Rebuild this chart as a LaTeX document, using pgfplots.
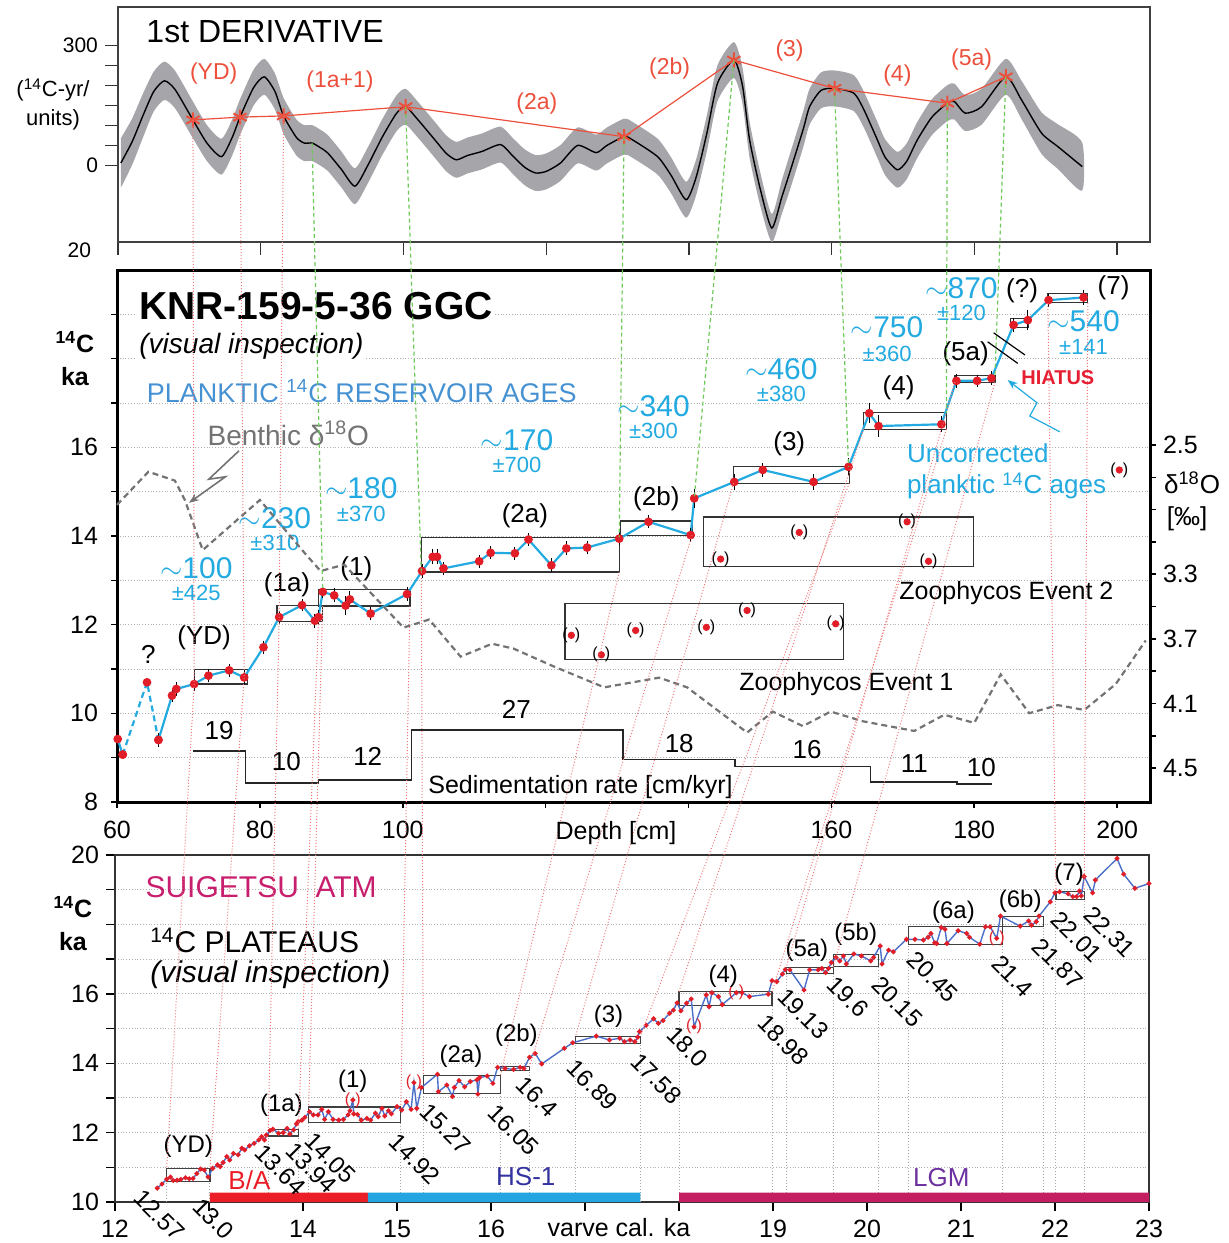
\documentclass[border=0pt]{standalone}
\usepackage{fontspec}
\setmainfont{Liberation Sans}
\usepackage{pgfplots}
\pgfplotsset{compat=1.18}
\usetikzlibrary{arrows.meta}
\newcommand{\fs}[1]{\fontsize{#1}{#1}\selectfont}
\definecolor{dred}{RGB}{236,80,60}
\definecolor{band}{RGB}{165,165,170}
\definecolor{cyanb}{RGB}{35,170,225}
\definecolor{plank}{RGB}{70,145,210}
\definecolor{pred}{RGB}{225,30,40}
\definecolor{hiat}{RGB}{230,30,50}
\definecolor{suiline}{RGB}{75,110,200}
\definecolor{suimag}{RGB}{200,30,110}
\definecolor{barred}{RGB}{235,30,40}
\definecolor{barcyan}{RGB}{35,165,225}
\definecolor{barmag}{RGB}{195,30,95}
\definecolor{hstext}{RGB}{50,50,160}
\definecolor{lgmtext}{RGB}{110,50,160}
\definecolor{gline}{RGB}{110,200,90}
\definecolor{rline}{RGB}{240,120,120}
\pgfplotsset{every axis/.append style={/pgf/number format/assume math mode=true}}
\begin{document}
\begin{tikzpicture}[font=\fs{12.5}]
\useasboundingbox (0,0) rectangle (614.5pt,-621.5pt);

% ================= TOP PANEL =================
\begin{axis}[
 at={(59pt,-121pt)}, anchor=south west, scale only axis,
 width=516pt, height=117.5pt,
 xmin=60, xmax=204.6, ymin=-192, ymax=397,
 xtick={60,80,...,200}, xticklabels={},
 ytick={0,50,100,150,200,250,300}, yticklabels={0,,,,,,300},
 tick align=outside, major tick length=6.5pt, tick pos=left,
 axis line style={line width=0.8pt, black!75},
 every tick/.style={black!80, line width=0.7pt},
 tick label style={font=\fs{10.5}},
 clip=false]
\addplot[fill=band, draw=none, smooth, tension=0.4] coordinates {
(60.4,68)(62.0,118)(63.5,180)(65.0,235)(66.5,260)(68.0,237)(70.5,160)(72.5,100)(74.5,67)(76.0,115)(77.1,166)(79.0,240)(80.5,267)(82.0,230)(83.2,169)(85.0,115)(86.1,101)(87.2,101)(88.3,90)(89.4,76)(91.3,35)(93.2,-7)(95.0,45)(97.0,115)(99.0,175)(100.3,192)(102.0,160)(104.4,109)(106.0,75)(107.4,59)(109.0,70)(111.0,80)(113.6,97)(115.4,67)(117.0,40)(118.5,26)(120.0,30)(122.0,51)(124.4,95)(127.0,77)(128.5,95)(130.9,117)(132.0,110)(135.6,67)(137.5,20)(139.6,-41)(141.0,15)(142.5,125)(144.0,251)(146.3,309)(147.5,245)(148.5,109)(150.0,-18)(151.6,-122)(153.0,-38)(154.1,26)(156.0,135)(156.9,192)(158.5,233)(160.4,238)(163.1,226)(164.5,185)(166.4,109)(167.5,65)(169.2,34)(170.5,55)(172.0,109)(174.0,165)(176.2,201)(177.2,205)(178.7,176)(181.0,192)(184.4,267)(186.6,212)(189.4,133)(191.7,103)(195.1,57)
(195.1,-63)(191.7,-9)(189.4,29)(186.6,116)(184.4,177)(181.0,102)(178.7,86)(177.2,115)(176.2,111)(174.0,75)(172.0,19)(170.5,-35)(169.2,-56)(167.5,-25)(166.4,19)(164.5,95)(163.1,136)(160.4,148)(158.5,143)(156.9,102)(156.0,45)(154.1,-64)(153.0,-122)(151.6,-192)(150.0,-102)(148.5,19)(147.5,155)(146.3,219)(144.0,161)(142.5,35)(141.0,-75)(139.6,-131)(137.5,-70)(135.6,-23)(132.0,20)(130.9,27)(128.5,5)(127.0,-13)(124.4,5)(122.0,-39)(120.0,-60)(118.5,-64)(117.0,-50)(115.4,-23)(113.6,7)(111.0,-10)(109.0,-20)(107.4,-31)(106.0,-15)(104.4,19)(102.0,70)(100.3,102)(99.0,85)(97.0,25)(95.0,-45)(93.2,-97)(91.3,-55)(89.4,-14)(88.3,0)(87.2,11)(86.1,11)(85.0,25)(83.2,79)(82.0,140)(80.5,177)(79.0,150)(77.1,76)(76.0,25)(74.5,-23)(72.5,10)(70.5,68)(68.0,143)(66.5,164)(65.0,135)(63.5,70)(62.0,2)(60.4,-56)};
\addplot[black, line width=0.7pt, smooth, tension=0.4] coordinates {
(60.4,6)(62.0,60)(63.5,125)(65.0,185)(66.5,212)(68.0,190)(70.5,114)(72.5,55)(74.5,22)(76.0,70)(77.1,121)(79.0,195)(80.5,222)(82.0,185)(83.2,124)(85.0,70)(86.1,56)(87.2,56)(88.3,45)(89.4,31)(91.3,-10)(93.2,-52)(95.0,0)(97.0,70)(99.0,130)(100.3,147)(102.0,115)(104.4,64)(106.0,30)(107.4,14)(109.0,25)(111.0,35)(113.6,52)(115.4,22)(117.0,-5)(118.5,-19)(120.0,-15)(122.0,6)(124.4,50)(127.0,32)(128.5,50)(130.9,72)(132.0,65)(135.6,22)(137.5,-25)(139.6,-86)(141.0,-30)(142.5,80)(144.0,206)(146.3,264)(147.5,200)(148.5,64)(150.0,-60)(151.6,-157)(153.0,-80)(154.1,-19)(156.0,90)(156.9,147)(158.5,188)(160.4,193)(163.1,181)(164.5,140)(166.4,64)(167.5,20)(169.2,-11)(170.5,10)(172.0,64)(174.0,120)(176.2,156)(177.2,160)(178.7,131)(181.0,147)(184.4,222)(186.6,164)(189.4,81)(191.7,47)(195.1,-3)};
\addplot[dred, line width=0.6pt, mark=asterisk, mark size=3.8pt, mark options={line width=1pt}] coordinates {
(70.5,114)(77.1,121)(83.2,124)(100.3,147)(130.9,72)(146.3,264)(160.4,193)(176.2,156)(184.4,222)};
\node[anchor=west, font=\fs{16}] at (axis cs:63.0,335) {1st DERIVATIVE};
\node[dred, font=\fs{11.5}] at (axis cs:73.4,231) {(YD)};
\node[dred, font=\fs{11.5}] at (axis cs:91.1,210) {(1a+1)};
\node[dred, font=\fs{11.5}] at (axis cs:118.7,156) {(2a)};
\node[dred, font=\fs{11.5}] at (axis cs:137.3,243) {(2b)};
\node[dred, font=\fs{11.5}] at (axis cs:154.1,289) {(3)};
\node[dred, font=\fs{11.5}] at (axis cs:169.2,224) {(4)};
\node[dred, font=\fs{11.5}] at (axis cs:179.6,266) {(5a)};
\coordinate (T1) at (axis cs:70.5,114);
\coordinate (T2) at (axis cs:77.1,121);
\coordinate (T3) at (axis cs:83.2,124);
\coordinate (TG1) at (axis cs:87.2,56);
\coordinate (TG2) at (axis cs:100.3,147);
\coordinate (TG3) at (axis cs:130.9,72);
\coordinate (TG4) at (axis cs:146.3,264);
\coordinate (TG5) at (axis cs:160.4,193);
\coordinate (TG6) at (axis cs:176.2,156);
\coordinate (TG7) at (axis cs:184.4,222);
\end{axis}

% ================= MIDDLE PANEL =================
\begin{axis}[
 at={(58.5pt,-401pt)}, anchor=south west, scale only axis,
 width=516.5pt, height=266pt,
 xmin=60, xmax=204.6, ymin=8, ymax=20,
 xtick={60,80,...,200}, xticklabels={60,80,100,,,160,180,200},
 ytick={8,9,10,11,12,13,14,15,16,17,18,19}, yticklabels={8,,10,,12,,14,,16,,,},
 ymajorgrids, grid style={densely dotted, black!30, line width=0.5pt},
 tick align=outside, major tick length=3pt, tick pos=left,
 axis line style={line width=1.5pt},
 every tick/.style={black, line width=0.8pt},
 tick label style={font=\fs{12.5}},
 xticklabel style={yshift=-3pt}, yticklabel style={xshift=-3pt},
 clip=false]
% plateau boxes
\draw[black!80, line width=0.6pt] (axis cs:70.8,10.66) rectangle (axis cs:78.3,10.98);
\draw[black!80, line width=0.6pt] (axis cs:82.4,12.08) rectangle (axis cs:88.8,12.43);
\draw[black!80, line width=0.6pt] (axis cs:88.2,12.42) rectangle (axis cs:101.0,12.79);
\draw[black!80, line width=0.6pt] (axis cs:102.6,13.19) rectangle (axis cs:130.3,13.97);
\draw[black!80, line width=0.6pt] (axis cs:130.5,14.02) rectangle (axis cs:140.5,14.34);
\draw[black!80, line width=0.6pt] (axis cs:146.3,15.19) rectangle (axis cs:162.5,15.56);
\draw[black!80, line width=0.6pt] (axis cs:164.5,16.41) rectangle (axis cs:176.1,16.78);
\draw[black!80, line width=0.6pt] (axis cs:177.3,17.47) rectangle (axis cs:182.9,17.62);
\draw[black!80, line width=0.6pt] (axis cs:185.1,18.70) rectangle (axis cs:187.6,18.90);
\draw[black!80, line width=0.6pt] (axis cs:190.3,19.26) rectangle (axis cs:195.9,19.47);
% zoophycos boxes
\draw[black!80, line width=0.6pt] (axis cs:142.1,13.32) rectangle (axis cs:179.9,14.43);
\draw[black!80, line width=0.6pt] (axis cs:122.7,11.21) rectangle (axis cs:161.7,12.47);
% sedimentation rate
\addplot[black!85, line width=0.8pt] coordinates {
(70.6,9.15)(78.0,9.15)(78.0,8.43)(88.2,8.43)(88.2,8.49)(101.2,8.49)(101.2,9.62)(130.8,9.62)(130.8,8.955)(146.5,8.955)(146.5,8.80)(165.5,8.80)(165.5,8.45)(177.6,8.45)(177.6,8.41)(182.5,8.41)};
% planktic ages
\addplot[cyanb, line width=1.1pt, mark=*, mark size=1.6pt, mark options={pred}] coordinates {(60.1,9.42)(60.8,9.07)};
\addplot[cyanb, line width=1.1pt, dash pattern=on 3pt off 2pt, mark=*, mark size=1.6pt, mark options={pred, solid}] coordinates {(60.8,9.07)(64.2,10.70)(65.8,9.40)};
\addplot[cyanb, line width=1.1pt, mark=*, mark size=1.6pt, mark options={pred},
  error bars/.cd, y dir=both, y explicit,
  error bar style={black, line width=0.5pt},
  error mark options={black, mark size=2.2pt, line width=0.5pt}]
 table[x index=0, y index=1, y error index=2] {
65.8 9.40 0.05
67.7 10.40 0.05
68.3 10.55 0.05
70.8 10.66 0.05
72.8 10.85 0.05
75.7 10.97 0.04
77.8 10.81 0.07
80.5 11.49 0.05
82.7 12.17 0.05
85.9 12.44 0.04
87.7 12.09 0.06
88.2 12.17 0.07
88.8 12.74 0.05
90.4 12.66 0.06
92.0 12.43 0.12
92.6 12.57 0.08
95.5 12.25 0.05
100.6 12.69 0.05
102.7 13.21 0.05
104.2 13.53 0.07
104.8 13.53 0.07
105.7 13.27 0.05
110.7 13.43 0.05
112.3 13.62 0.05
115.7 13.61 0.05
117.6 13.92 0.05
120.8 13.34 0.06
122.9 13.72 0.06
125.8 13.74 0.05
130.3 13.94 0.05
134.4 14.32 0.05
140.3 14.02 0.06
140.8 14.85 0.12
146.4 15.22 0.08
150.4 15.49 0.06
157.5 15.22 0.08
162.4 15.56 0.10
165.3 16.77 0.12
166.6 16.48 0.15
175.4 16.52 0.08
177.5 17.50 0.06
180.4 17.50 0.04
182.4 17.56 0.06
185.5 18.76 0.05
187.5 18.87 0.12
190.4 19.32 0.05
195.3 19.38 0.07
};
% zoophycos (rejected) points
\addplot[only marks, mark=*, mark size=1.6pt, pred] coordinates {
(155.5,14.08)(170.6,14.32)(144.5,13.48)(173.6,13.43)(123.6,11.76)(127.8,11.32)(132.6,11.87)(142.5,11.94)(148.2,12.32)(160.6,12.02)(200.3,15.49)};
\node[font=\fs{8}] at (axis cs:155.5,14.08) {(\hspace{3.6pt})};
\node[font=\fs{8}] at (axis cs:170.6,14.32) {(\hspace{3.6pt})};
\node[font=\fs{8}] at (axis cs:144.5,13.48) {(\hspace{3.6pt})};
\node[font=\fs{8}] at (axis cs:173.6,13.43) {(\hspace{3.6pt})};
\node[font=\fs{8}] at (axis cs:123.6,11.76) {(\hspace{3.6pt})};
\node[font=\fs{8}] at (axis cs:127.8,11.32) {(\hspace{3.6pt})};
\node[font=\fs{8}] at (axis cs:132.6,11.87) {(\hspace{3.6pt})};
\node[font=\fs{8}] at (axis cs:142.5,11.94) {(\hspace{3.6pt})};
\node[font=\fs{8}] at (axis cs:148.2,12.32) {(\hspace{3.6pt})};
\node[font=\fs{8}] at (axis cs:160.6,12.02) {(\hspace{3.6pt})};
\node[font=\fs{8}] at (axis cs:200.3,15.49) {(\hspace{3.6pt})};
% texts
\node[anchor=west, fill=white, inner sep=1pt, font=\bfseries\fs{19.5}] at (axis cs:62.8,19.18) {KNR-159-5-36 GGC};
\node[anchor=west, fill=white, inner sep=1pt, font=\itshape\fs{14}] at (axis cs:62.8,18.28) {(visual inspection)};
\node[anchor=west, plank, font=\fs{13.5}] at (axis cs:63.2,17.27) {PLANKTIC \textsuperscript{14}C RESERVOIR AGES};
\node[anchor=west, black!55, font=\fs{14}] at (axis cs:71.7,16.32) {Benthic δ\textsuperscript{18}O};
\node[cyanb, font=\fs{15}] at (axis cs:71.1,13.28) {$\sim$100};
\node[cyanb, font=\fs{11}] at (axis cs:71.1,12.72) {±425};
\node[cyanb, font=\fs{15}] at (axis cs:82.1,14.41) {$\sim$230};
\node[cyanb, font=\fs{11}] at (axis cs:82.1,13.85) {±310};
\node[cyanb, font=\fs{15}] at (axis cs:94.2,15.09) {$\sim$180};
\node[cyanb, font=\fs{11}] at (axis cs:94.2,14.49) {±370};
\node[cyanb, font=\fs{15}] at (axis cs:116.0,16.17) {$\sim$170};
\node[cyanb, font=\fs{11}] at (axis cs:116.0,15.61) {±700};
\node[cyanb, font=\fs{15}] at (axis cs:135.1,16.93) {$\sim$340};
\node[cyanb, font=\fs{11}] at (axis cs:135.1,16.37) {±300};
\node[cyanb, font=\fs{15}] at (axis cs:153.0,17.76) {$\sim$460};
\node[cyanb, font=\fs{11}] at (axis cs:153.0,17.20) {±380};
\node[cyanb, font=\fs{15}] at (axis cs:167.8,18.70) {$\sim$750};
\node[cyanb, font=\fs{11}] at (axis cs:167.8,18.11) {±360};
\node[cyanb, font=\fs{15}] at (axis cs:178.2,19.60) {$\sim$870};
\node[cyanb, font=\fs{11}] at (axis cs:178.2,19.04) {±120};
\node[cyanb, font=\fs{15}] at (axis cs:195.3,18.85) {$\sim$540};
\node[cyanb, font=\fs{11}] at (axis cs:195.3,18.27) {±141};
\node[font=\fs{13}] at (axis cs:72.2,11.70) {(YD)};
\node[font=\fs{13}] at (axis cs:64.4,11.32) {?};
\node[font=\fs{13}] at (axis cs:83.8,12.91) {(1a)};
\node[font=\fs{13}] at (axis cs:93.5,13.25) {(1)};
\node[font=\fs{13}] at (axis cs:117.1,14.45) {(2a)};
\node[font=\fs{13}] at (axis cs:135.5,14.83) {(2b)};
\node[font=\fs{13}] at (axis cs:154.1,16.07) {(3)};
\node[font=\fs{13}] at (axis cs:169.4,17.35) {(4)};
\node[font=\fs{13}] at (axis cs:178.8,18.10) {(5a)};
\node[font=\fs{13}] at (axis cs:186.7,19.53) {(?)};
\node[font=\fs{13}] at (axis cs:199.5,19.60) {(7)};
\node[hiat, font=\bfseries\fs{10}] at (axis cs:191.7,17.57) {HIATUS};
\node[anchor=west, cyanb, font=\fs{13}] at (axis cs:169.6,15.86) {Uncorrected};
\node[anchor=west, cyanb, font=\fs{13}] at (axis cs:169.6,15.13) {planktic \textsuperscript{14}C ages};
\node[font=\fs{12.5}] at (axis cs:184.5,12.71) {Zoophycos Event 2};
\node[font=\fs{12.5}] at (axis cs:162.1,10.65) {Zoophycos Event 1};
\node[font=\fs{13}] at (axis cs:74.3,9.61) {19};
\node[font=\fs{13}] at (axis cs:83.7,8.91) {10};
\node[font=\fs{13}] at (axis cs:95.1,9.03) {12};
\node[font=\fs{13}] at (axis cs:115.9,10.08) {27};
\node[font=\fs{13}] at (axis cs:138.7,9.32) {18};
\node[font=\fs{13}] at (axis cs:156.6,9.18) {16};
\node[font=\fs{13}] at (axis cs:171.6,8.86) {11};
\node[font=\fs{13}] at (axis cs:181.0,8.77) {10};
\node[anchor=west, font=\fs{12.5}] at (axis cs:102.6,8.34) {Sedimentation rate [cm/kyr]};
% link coordinates
\coordinate (M1) at (axis cs:70.8,10.66);
\coordinate (M2) at (axis cs:77.8,10.81);
\coordinate (M3) at (axis cs:82.7,12.17);
\coordinate (M4) at (axis cs:88.2,12.08);
\coordinate (M5) at (axis cs:88.8,12.42);
\coordinate (M6) at (axis cs:101.0,12.42);
\coordinate (M7) at (axis cs:102.6,13.19);
\coordinate (M8) at (axis cs:130.3,13.19);
\coordinate (M9) at (axis cs:140.5,14.02);
\coordinate (M10) at (axis cs:146.3,15.19);
\coordinate (M11) at (axis cs:162.5,15.19);
\coordinate (M12) at (axis cs:164.5,16.41);
\coordinate (M13) at (axis cs:176.1,16.41);
\coordinate (M14) at (axis cs:177.3,17.47);
\coordinate (M15) at (axis cs:182.9,17.47);
\coordinate (M16) at (axis cs:190.3,19.26);
\coordinate (M17) at (axis cs:195.9,19.26);
\coordinate (MG1) at (axis cs:88.8,12.79);
\coordinate (MG2) at (axis cs:102.6,13.20);
\coordinate (MG3) at (axis cs:130.3,13.97);
\coordinate (MG4) at (axis cs:140.8,14.85);
\coordinate (MG5) at (axis cs:162.4,15.56);
\coordinate (MG6) at (axis cs:176.1,16.78);
\coordinate (MG7) at (axis cs:182.9,17.62);
\end{axis}

% ================= MIDDLE right axis (d18O) =================
\begin{axis}[
 at={(58.5pt,-401pt)}, anchor=south west, scale only axis,
 width=516.5pt, height=266pt,
 xmin=60, xmax=204.6, ymin=1.416, ymax=4.71, y dir=reverse,
 hide x axis, axis y line*=right,
 ytick={2.5,2.7,2.9,3.1,3.3,3.5,3.7,3.9,4.1,4.3,4.5},
 yticklabels={2.5,,,,3.3,,3.7,,4.1,,4.5},
 tick align=outside, major tick length=3pt,
 axis line style={line width=1.5pt},
 every tick/.style={black, line width=0.8pt},
 tick label style={font=\fs{12.5}},
 clip=false]
\addplot[black!55, line width=1.1pt, dash pattern=on 3pt off 2pt] coordinates {
(60.0,2.87)(64.4,2.665)(68.1,2.72)(69.5,2.84)(72.0,3.15)(80.0,2.84)(86.3,3.17)(88.5,3.28)(91.8,3.24)(100.1,3.63)(103.7,3.58)(108.1,3.81)(112.5,3.73)(115.5,3.76)(121.1,3.87)(128.2,4.00)(135.9,3.94)(139.8,4.00)(148.2,4.28)(151.8,4.15)(156.0,4.24)(159.9,4.15)(164.4,4.21)(171.6,4.27)(175.8,4.17)(180.0,4.22)(183.7,3.92)(187.7,4.16)(191.7,4.11)(195.4,4.14)(199.8,3.98)(204.0,3.71)};
\end{axis}

% ================= BOTTOM PANEL =================
\begin{axis}[
 at={(57.5pt,-601pt)}, anchor=south west, scale only axis,
 width=517pt, height=173.5pt,
 xmin=12, xmax=23, ymin=10, ymax=20,
 xtick={12,13,14,15,16,17,18,19,20,21,22,23}, xticklabels={12,,14,15,16,,,19,20,21,22,23},
 ytick={10,11,12,13,14,15,16,17,18,19,20}, yticklabels={10,,12,,14,,16,,,,20},
 ymajorgrids, grid style={densely dotted, black!30, line width=0.5pt},
 tick align=outside, major tick length=4.5pt, tick pos=left,
 axis line style={line width=0.8pt, black!80},
 every tick/.style={black, line width=0.7pt},
 tick label style={font=\fs{12.5}},
 xticklabel style={yshift=-1pt},
 clip=false]
% vertical dotted lines
\draw[black!35, densely dotted, line width=0.5pt] (axis cs:12.55,10)--(axis cs:12.55,10.59)
 (axis cs:13.01,10)--(axis cs:13.01,10.59) (axis cs:13.63,10)--(axis cs:13.63,11.90)
 (axis cs:13.95,10)--(axis cs:13.95,11.90) (axis cs:14.06,10)--(axis cs:14.06,12.29)
 (axis cs:15.04,10)--(axis cs:15.04,12.29) (axis cs:15.28,10)--(axis cs:15.28,13.13)
 (axis cs:16.10,10)--(axis cs:16.10,13.13) (axis cs:16.41,10)--(axis cs:16.41,13.78)
 (axis cs:16.90,10)--(axis cs:16.90,14.57) (axis cs:17.59,10)--(axis cs:17.59,14.57)
 (axis cs:18.00,10)--(axis cs:18.00,15.67) (axis cs:18.99,10)--(axis cs:18.99,15.67)
 (axis cs:19.14,10)--(axis cs:19.14,16.58) (axis cs:19.64,10)--(axis cs:19.64,16.58)
 (axis cs:20.12,10)--(axis cs:20.12,16.79) (axis cs:20.44,10)--(axis cs:20.44,17.42)
 (axis cs:21.44,10)--(axis cs:21.44,17.42) (axis cs:21.88,10)--(axis cs:21.88,17.93)
 (axis cs:22.01,10)--(axis cs:22.01,18.71) (axis cs:22.31,10)--(axis cs:22.31,18.71);
% bars
\addplot[fill=barred, draw=none] coordinates {(13.01,10)(14.69,10)(14.69,10.27)(13.01,10.27)} \closedcycle;
\addplot[fill=barcyan, draw=none] coordinates {(14.69,10)(17.59,10)(17.59,10.27)(14.69,10.27)} \closedcycle;
\addplot[fill=barmag, draw=none] coordinates {(18.0,10)(23.0,10)(23.0,10.27)(18.0,10.27)} \closedcycle;
% plateau boxes
\draw[black!75, line width=0.6pt] (axis cs:12.55,10.59) rectangle (axis cs:13.01,10.97);
\draw[black!75, line width=0.6pt] (axis cs:13.63,11.90) rectangle (axis cs:13.95,12.09);
\draw[black!75, line width=0.6pt] (axis cs:14.06,12.29) rectangle (axis cs:15.04,12.74);
\draw[black!75, line width=0.6pt] (axis cs:15.28,13.13) rectangle (axis cs:16.10,13.64);
\draw[black!75, line width=0.6pt] (axis cs:16.10,13.78) rectangle (axis cs:16.41,13.90);
\draw[black!75, line width=0.6pt] (axis cs:16.90,14.57) rectangle (axis cs:17.59,14.78);
\draw[black!75, line width=0.6pt] (axis cs:18.00,15.67) rectangle (axis cs:18.99,16.06);
\draw[black!75, line width=0.6pt] (axis cs:19.14,16.58) rectangle (axis cs:19.64,16.76);
\draw[black!75, line width=0.6pt] (axis cs:19.64,16.79) rectangle (axis cs:20.12,17.14);
\draw[black!75, line width=0.6pt] (axis cs:20.44,17.42) rectangle (axis cs:21.44,17.95);
\draw[black!75, line width=0.6pt] (axis cs:21.44,17.93) rectangle (axis cs:21.88,18.23);
\draw[black!75, line width=0.6pt] (axis cs:22.01,18.71) rectangle (axis cs:22.31,18.96);
% Suigetsu series
\addplot[suiline, line width=0.7pt, mark=*, mark size=0.85pt, mark options={pred}] coordinates {
(12.45,10.40)(12.50,10.52)(12.55,10.66)(12.59,10.72)(12.62,10.62)(12.66,10.63)(12.70,10.65)(12.75,10.70)(12.79,10.67)(12.83,10.68)(12.87,10.82)(12.91,10.95)(12.95,10.92)(12.99,10.72)(13.04,10.97)(13.09,11.07)(13.12,11.02)(13.15,11.14)(13.19,11.31)(13.22,11.21)(13.26,11.40)(13.31,11.36)(13.35,11.55)(13.38,11.50)(13.43,11.62)(13.48,11.69)(13.53,11.79)(13.56,11.88)(13.59,11.79)(13.61,11.93)(13.65,12.06)(13.68,12.10)(13.74,11.98)(13.79,12.00)(13.83,12.12)(13.86,11.96)(13.90,12.08)(13.93,12.25)(13.95,12.32)(13.99,12.36)(14.02,12.44)(14.07,12.60)(14.11,12.51)(14.16,12.51)(14.20,12.67)(14.23,12.38)(14.27,12.60)(14.32,12.38)(14.38,12.36)(14.43,12.38)(14.48,12.51)(14.50,12.63)(14.53,12.94)(14.54,12.54)(14.58,12.52)(14.62,12.36)(14.68,12.41)(14.72,12.36)(14.77,12.56)(14.80,12.46)(14.84,12.70)(14.87,12.48)(14.91,12.63)(14.94,12.54)(15.00,12.75)(15.05,12.65)(15.10,12.89)(15.15,12.67)(15.18,13.44)(15.21,12.70)(15.26,13.30)(15.43,13.68)(15.44,13.18)(15.53,13.37)(15.59,13.04)(15.61,13.30)(15.66,13.50)(15.72,13.32)(15.78,13.47)(15.85,13.52)(15.86,13.11)(15.88,13.59)(15.96,13.63)(16.02,13.42)(16.07,13.88)(16.15,13.85)(16.24,13.82)(16.31,13.88)(16.35,13.85)(16.41,14.17)(16.47,14.28)(16.54,13.98)(16.78,14.43)(16.87,14.59)(17.12,14.78)(17.26,14.67)(17.37,14.72)(17.42,14.62)(17.48,14.67)(17.53,14.62)(17.56,14.75)(17.58,14.91)(17.65,15.09)(17.73,15.28)(17.78,15.15)(17.83,15.23)(17.90,15.44)(17.94,15.53)(17.98,15.74)(18.02,15.51)(18.08,15.73)(18.13,15.85)(18.16,15.05)(18.29,15.97)(18.32,15.63)(18.35,16.03)(18.42,15.92)(18.46,15.69)(18.61,16.03)(18.67,16.03)(18.75,15.92)(18.95,15.99)(18.99,16.38)(19.04,16.35)(19.10,16.57)(19.13,16.70)(19.18,16.69)(19.33,16.11)(19.39,16.69)(19.48,16.69)(19.52,16.73)(19.56,16.61)(19.59,16.73)(19.62,16.90)(19.67,17.05)(19.71,16.95)(19.75,17.09)(19.78,16.86)(19.86,17.15)(19.94,17.09)(20.04,16.95)(20.07,17.05)(20.14,17.38)(20.16,16.86)(20.23,17.26)(20.28,17.21)(20.42,17.57)(20.51,17.57)(20.60,17.55)(20.65,17.63)(20.68,17.74)(20.72,17.47)(20.74,17.45)(20.79,17.91)(20.83,17.86)(20.85,17.45)(20.97,17.82)(21.06,17.74)(21.09,17.63)(21.20,17.43)(21.26,17.93)(21.31,17.93)(21.38,17.60)(21.42,18.24)(21.63,17.95)(21.72,18.10)(21.75,17.98)(21.80,18.08)(21.83,18.24)(21.95,18.65)(22.00,18.91)(22.05,18.94)(22.14,18.88)(22.19,18.80)(22.23,18.80)(22.26,18.96)(22.28,18.82)(22.31,19.38)(22.40,18.91)(22.43,19.28)(22.66,19.90)(22.73,19.45)(22.85,19.04)(23.00,19.18)};
\node[pred, font=\fs{8}] at (axis cs:14.53,12.94) {(\hspace{2.6pt})};
\node[pred, font=\fs{8}] at (axis cs:15.18,13.44) {(\hspace{2.6pt})};
\node[pred, font=\fs{8}] at (axis cs:18.16,15.05) {(\hspace{2.6pt})};
\node[pred, font=\fs{8}] at (axis cs:18.61,16.03) {(\hspace{2.6pt})};
\node[pred, font=\fs{8}] at (axis cs:21.38,17.60) {(\hspace{2.6pt})};
% texts
\node[anchor=west, suimag, font=\fs{15}] at (axis cs:12.25,19.08) {SUIGETSU\ \ ATM};
\node[anchor=west, font=\fs{15}] at (axis cs:12.30,17.54) {\textsuperscript{14}C PLATEAUS};
\node[anchor=west, font=\itshape\fs{15}] at (axis cs:12.30,16.54) {(visual inspection)};
\node[font=\fs{12}] at (axis cs:12.78,11.61) {(YD)};
\node[font=\fs{12}] at (axis cs:13.77,12.79) {(1a)};
\node[font=\fs{12}] at (axis cs:14.53,13.49) {(1)};
\node[font=\fs{12}] at (axis cs:15.68,14.20) {(2a)};
\node[font=\fs{12}] at (axis cs:16.27,14.81) {(2b)};
\node[font=\fs{12}] at (axis cs:17.25,15.36) {(3)};
\node[font=\fs{12}] at (axis cs:18.47,16.51) {(4)};
\node[font=\fs{12}] at (axis cs:19.36,17.26) {(5a)};
\node[font=\fs{12}] at (axis cs:19.88,17.72) {(5b)};
\node[font=\fs{12}] at (axis cs:20.92,18.36) {(6a)};
\node[font=\fs{12}] at (axis cs:21.63,18.68) {(6b)};
\node[font=\fs{12}] at (axis cs:22.15,19.44) {(7)};
\node[rotate=-45, font=\fs{12}] at (axis cs:12.47,9.62) {12.57};
\node[rotate=-45, font=\fs{12}] at (axis cs:13.05,9.52) {13.0};
\node[rotate=-45, font=\fs{12}] at (axis cs:13.76,10.94) {13.64};
\node[rotate=-45, font=\fs{12}] at (axis cs:14.09,10.97) {13.94};
\node[rotate=-45, font=\fs{12}] at (axis cs:14.29,11.26) {14.05};
\node[rotate=-45, font=\fs{12}] at (axis cs:15.19,11.24) {14.92};
\node[rotate=-45, font=\fs{12}] at (axis cs:15.52,12.12) {15.27};
\node[rotate=-45, font=\fs{12}] at (axis cs:16.24,12.07) {16.05};
\node[rotate=-45, font=\fs{12}] at (axis cs:16.49,13.03) {16.4};
\node[rotate=-45, font=\fs{12}] at (axis cs:17.08,13.37) {16.89};
\node[rotate=-45, font=\fs{12}] at (axis cs:17.76,13.56) {17.58};
\node[rotate=-45, font=\fs{12}] at (axis cs:18.09,14.47) {18.0};
\node[rotate=-45, font=\fs{12}] at (axis cs:19.11,14.66) {18.98};
\node[rotate=-45, font=\fs{12}] at (axis cs:19.32,15.43) {19.13};
\node[rotate=-45, font=\fs{12}] at (axis cs:19.80,15.91) {19.6};
\node[rotate=-45, font=\fs{12}] at (axis cs:20.32,15.77) {20.15};
\node[rotate=-45, font=\fs{12}] at (axis cs:20.70,16.49) {20.45};
\node[rotate=-45, font=\fs{12}] at (axis cs:21.55,16.51) {21.4};
\node[rotate=-45, font=\fs{12}] at (axis cs:22.03,16.87) {21.87};
\node[rotate=-45, font=\fs{12}] at (axis cs:22.23,17.64) {22.01};
\node[rotate=-45, font=\fs{12}] at (axis cs:22.58,17.78) {22.31};
\node[barred, font=\fs{13}] at (axis cs:13.43,10.62) {B/A};
\node[hstext, font=\fs{13}] at (axis cs:16.37,10.73) {HS-1};
\node[lgmtext, font=\fs{13}] at (axis cs:20.79,10.71) {LGM};
\coordinate (B1) at (axis cs:12.55,10.97);
\coordinate (B2) at (axis cs:13.01,10.97);
\coordinate (B3) at (axis cs:13.63,12.09);
\coordinate (B4) at (axis cs:13.95,12.09);
\coordinate (B5) at (axis cs:14.06,12.74);
\coordinate (B6) at (axis cs:15.04,12.74);
\coordinate (B7) at (axis cs:15.28,13.64);
\coordinate (B8) at (axis cs:16.10,13.64);
\coordinate (B9) at (axis cs:16.41,13.90);
\coordinate (B10) at (axis cs:16.90,14.78);
\coordinate (B11) at (axis cs:17.59,14.78);
\coordinate (B12) at (axis cs:18.00,16.06);
\coordinate (B13) at (axis cs:18.99,16.06);
\coordinate (B14) at (axis cs:19.14,16.76);
\coordinate (B15) at (axis cs:19.64,16.76);
\coordinate (B16) at (axis cs:22.01,18.96);
\coordinate (B17) at (axis cs:22.31,18.96);
\end{axis}

% ================= connecting lines =================
\begin{scope}[rline, densely dotted, line width=0.5pt]
\draw (T1)--(M1)--(B1);
\draw (T2)--(M2)--(B2);
\draw (T3)--(M3)--(B3);
\draw (M4)--(B4); \draw (M5)--(B5); \draw (M6)--(B6); \draw (M7)--(B7);
\draw (M8)--(B8); \draw (M9)--(B9); \draw (M10)--(B10); \draw (M11)--(B11);
\draw (M12)--(B12); \draw (M13)--(B13); \draw (M14)--(B14); \draw (M15)--(B15);
\draw (M16)--(B16); \draw (M17)--(B17);
\end{scope}
\begin{scope}[gline, dash pattern=on 2pt off 1.5pt, line width=0.6pt]
\draw (TG1)--(MG1); \draw (TG2)--(MG2); \draw (TG3)--(MG3); \draw (TG4)--(MG4);
\draw (TG5)--(MG5); \draw (TG6)--(MG6); \draw (TG7)--(MG7);
\end{scope}

% ================= outer labels and arrows =================
\node[font=\fs{11}] at (26.5pt,-45pt) {(\textsuperscript{14}C-yr/};
\node[font=\fs{11}] at (26.5pt,-60pt) {units)};
\node[font=\fs{10.5}, anchor=east] at (49pt,-125pt) {20};
\node[font=\bfseries\fs{12.5}] at (37.5pt,-171pt) {\textsuperscript{14}C};
\node[font=\bfseries\fs{12.5}] at (37.5pt,-188.5pt) {ka};
\node[font=\bfseries\fs{12.5}] at (36.5pt,-453.5pt) {\textsuperscript{14}C};
\node[font=\bfseries\fs{12.5}] at (36.5pt,-471pt) {ka};
\node[font=\fs{12.5}] at (308pt,-416.5pt) {Depth [cm]};
\node[font=\fs{12.5}] at (309.5pt,-614pt) {varve cal. ka};
\node[font=\fs{13}] at (596pt,-241.5pt) {δ\textsuperscript{18}O};
\node[font=\fs{13}] at (593.5pt,-259.5pt) {[‰]};
\draw[black!55, line width=0.8pt, -{Stealth[length=5pt]}] (119.5pt,-225.4pt)--(104.4pt,-239.6pt)--(112.7pt,-238.4pt)--(94.5pt,-251.4pt);
\draw[cyanb, line width=0.6pt, -{Stealth[length=5pt]}] (529.9pt,-215.9pt)--(514.9pt,-208pt)--(518.5pt,-201.4pt)--(503.8pt,-190pt);
\draw[black, line width=0.6pt] (496.8pt,-166.4pt)--(512.5pt,-177.5pt);
\draw[black, line width=0.6pt] (493.8pt,-170.9pt)--(508.9pt,-181.7pt);
\end{tikzpicture}
\end{document}
